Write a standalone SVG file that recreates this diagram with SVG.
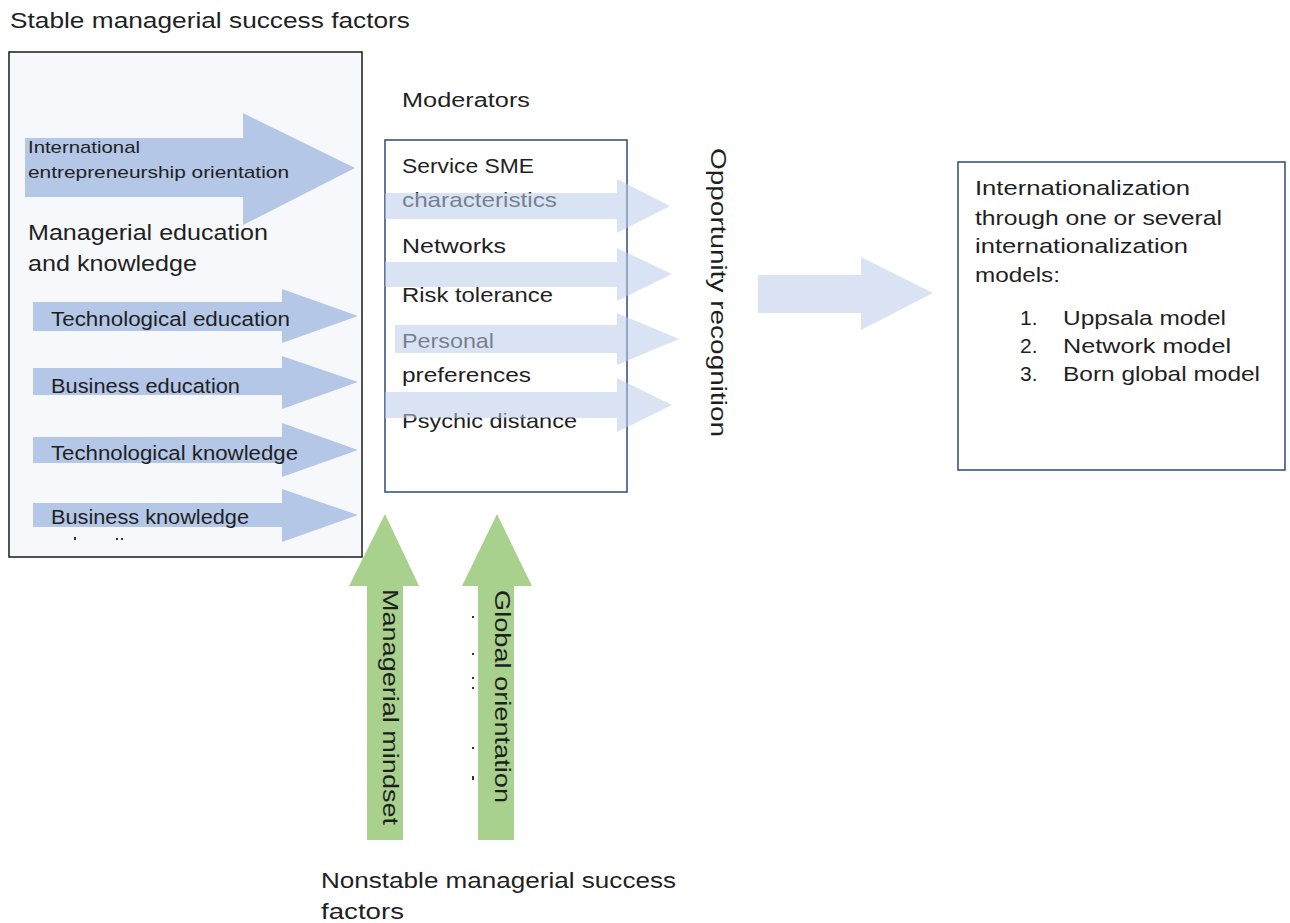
<svg xmlns="http://www.w3.org/2000/svg" width="1290" height="923" viewBox="0 0 1290 923">
  <style>
    text { font-family: "Liberation Sans", Arial, sans-serif; fill: #1f1f1f; }
    .t20 { font-size: 20px; }
    .t21 { font-size: 21px; }
    .t22 { font-size: 22px; }
    .t17 { font-size: 17px; }
    .blueArrow { fill: #b4c7e7; }
    .paleArrow { fill: #bbcce9; opacity: 0.55; }
    .greenArrow { fill: #a9d18e; }
    .frameDark { fill: none; stroke: #1a1a1a; stroke-width: 1.5; }
    .frameBlue { fill: #ffffff; stroke: #2f4a7a; stroke-width: 1.5; }
    .dot { fill: #333333; }
  </style>

  <rect width="1290" height="923" fill="#ffffff"/>

  <text class="t22" x="10" y="28" textLength="400" lengthAdjust="spacingAndGlyphs">Stable managerial success factors</text>
  <text class="t20" x="402" y="107" textLength="128" lengthAdjust="spacingAndGlyphs">Moderators</text>

  <!-- Stable factors panel -->
  <g id="stable-factors">
    <rect x="9" y="52" width="353" height="505" fill="#f6f8fc"/>
    <path class="blueArrow" d="M25,138 H243 V113 L355,168 L243,225 V197 H25 Z"/>
    <path class="blueArrow" d="M33,302 H282 V289 L358,316 L282,343 V331 H33 Z"/>
    <path class="blueArrow" d="M33,368 H282 V356 L358,382 L282,409 V395 H33 Z"/>
    <path class="blueArrow" d="M33,437 H282 V423 L358,450 L282,477 V463 H33 Z"/>
    <path class="blueArrow" d="M33,503 H282 V489 L358,515 L282,542 V527 H33 Z"/>
    <text class="t17" x="28" y="153" textLength="112" lengthAdjust="spacingAndGlyphs">International</text>
    <text class="t17" x="28" y="178" textLength="261" lengthAdjust="spacingAndGlyphs">entrepreneurship orientation</text>
    <text class="t22" x="28" y="240" textLength="240" lengthAdjust="spacingAndGlyphs">Managerial education</text>
    <text class="t22" x="28" y="271" textLength="169" lengthAdjust="spacingAndGlyphs">and knowledge</text>
    <text class="t20" x="51" y="326" textLength="239" lengthAdjust="spacingAndGlyphs">Technological education</text>
    <text class="t20" x="51" y="393" textLength="189" lengthAdjust="spacingAndGlyphs">Business education</text>
    <text class="t20" x="51" y="460" textLength="247" lengthAdjust="spacingAndGlyphs">Technological knowledge</text>
    <text class="t20" x="51" y="524" textLength="198" lengthAdjust="spacingAndGlyphs">Business knowledge</text>
    <rect class="dot" x="74" y="537" width="2" height="3"/>
    <rect class="dot" x="116" y="538" width="2" height="2"/>
    <rect class="dot" x="121" y="538" width="2" height="2"/>
    <rect class="frameDark" x="9" y="52" width="353" height="505"/>
  </g>

  <!-- Moderators -->
  <g id="moderators">
    <rect class="frameBlue" x="385" y="140" width="242" height="352"/>
    <text class="t21" x="402" y="173" textLength="132" lengthAdjust="spacingAndGlyphs">Service SME</text>
    <text class="t21" x="402" y="207" textLength="155" lengthAdjust="spacingAndGlyphs">characteristics</text>
    <text class="t21" x="402" y="253" textLength="104" lengthAdjust="spacingAndGlyphs">Networks</text>
    <text class="t21" x="402" y="302" textLength="151" lengthAdjust="spacingAndGlyphs">Risk tolerance</text>
    <text class="t21" x="402" y="348" textLength="92" lengthAdjust="spacingAndGlyphs">Personal</text>
    <text class="t21" x="402" y="382" textLength="129" lengthAdjust="spacingAndGlyphs">preferences</text>
    <text class="t21" x="402" y="428" textLength="175" lengthAdjust="spacingAndGlyphs">Psychic distance</text>
  </g>

  <!-- Opportunity recognition -->
  <g id="opportunity">
    <text class="t22" transform="translate(711,148) rotate(90)" textLength="289" lengthAdjust="spacingAndGlyphs">Opportunity recognition</text>
  </g>

  <!-- Internationalization outcome -->
  <g id="outcome">
    <rect class="frameBlue" x="958" y="162" width="327" height="308"/>
    <text class="t21" x="975" y="195" textLength="215" lengthAdjust="spacingAndGlyphs">Internationalization</text>
    <text class="t21" x="975" y="225" textLength="247" lengthAdjust="spacingAndGlyphs">through one or several</text>
    <text class="t21" x="975" y="253" textLength="213" lengthAdjust="spacingAndGlyphs">internationalization</text>
    <text class="t21" x="975" y="282" textLength="85" lengthAdjust="spacingAndGlyphs">models:</text>
    <text class="t21" x="1020" y="325">1.</text>
    <text class="t21" x="1063" y="325" textLength="163" lengthAdjust="spacingAndGlyphs">Uppsala model</text>
    <text class="t21" x="1020" y="353">2.</text>
    <text class="t21" x="1063" y="353" textLength="168" lengthAdjust="spacingAndGlyphs">Network model</text>
    <text class="t21" x="1020" y="381">3.</text>
    <text class="t21" x="1063" y="381" textLength="197" lengthAdjust="spacingAndGlyphs">Born global model</text>
  </g>

  <!-- Nonstable factors -->
  <g id="nonstable-factors">
    <text class="t22" x="321" y="888" textLength="355" lengthAdjust="spacingAndGlyphs">Nonstable managerial success</text>
    <text class="t22" x="321" y="919" textLength="83" lengthAdjust="spacingAndGlyphs">factors</text>
  </g>

  <!-- Connectors -->
  <g id="connectors">
    <path class="paleArrow" d="M385,193 H617 V179 L670,206 L617,233 V219 H385 Z"/>
    <path class="paleArrow" d="M385,262 H617 V248 L672,274 L617,301 V287 H385 Z"/>
    <path class="paleArrow" d="M395,325 H617 V313 L679,339 L617,365 V353 H395 Z"/>
    <path class="paleArrow" d="M385,392 H617 V378 L672,405 L617,432 V418 H385 Z"/>
    <path class="paleArrow" d="M758,275 H861 V257 L933,293 L861,330 V313 H758 Z"/>
    <path class="greenArrow" d="M367,840 V586 H349 L385,514 L419,586 H403 V840 Z"/>
    <path class="greenArrow" d="M478,840 V586 H462 L497,514 L532,586 H514 V840 Z"/>
    <text class="t22" transform="translate(383,589) rotate(90)" textLength="236" lengthAdjust="spacingAndGlyphs">Managerial mindset</text>
    <text class="t22" transform="translate(495,590) rotate(90)" textLength="213" lengthAdjust="spacingAndGlyphs">Global orientation</text>
    <rect class="dot" x="472" y="616" width="2" height="2"/>
    <rect class="dot" x="472" y="653" width="2" height="2"/>
    <rect class="dot" x="472" y="677" width="2" height="2"/>
    <rect class="dot" x="472" y="687" width="2" height="2"/>
    <rect class="dot" x="472" y="747" width="2" height="2"/>
    <rect class="dot" x="472" y="776" width="2" height="4"/>
  </g>
</svg>
